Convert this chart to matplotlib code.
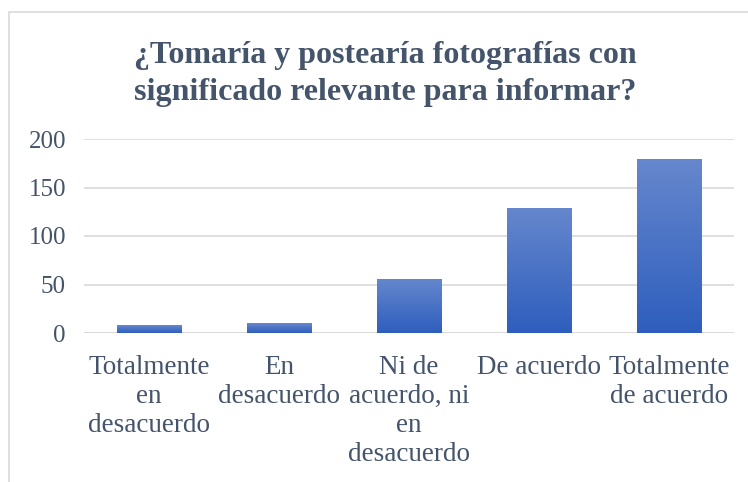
import matplotlib
matplotlib.use("Agg")
import matplotlib.pyplot as plt
import numpy as np
from matplotlib.colors import LinearSegmentedColormap
from matplotlib.patches import Rectangle

categories = ["Totalmente\nen\ndesacuerdo", "En\ndesacuerdo", "Ni de\nacuerdo, ni\nen\ndesacuerdo",
              "De acuerdo", "Totalmente\nde acuerdo"]
values = [8, 10, 56, 129, 179]
yticks = [0, 50, 100, 150, 200]
title = "¿Tomaría y postearía fotografías con\nsignificado relevante para informar?"

plt.rcParams['font.family'] = ['Liberation Serif', 'DejaVu Serif']
text_color = "#44546A"

fig = plt.figure(figsize=(7.48, 4.82), dpi=100)
fig.patches.append(Rectangle((9/748, -0.1), 1.0, 1 - 12/482 + 0.1, transform=fig.transFigure,
                             fill=False, edgecolor="#D9D9D9", linewidth=1.2))

ax = fig.add_axes([84/748, 1 - 333/482, (734-84)/748, (333-139)/482])
x = np.arange(len(categories))
bars = ax.bar(x, values, width=0.5, color="#4472C4", zorder=2)

cmap = LinearSegmentedColormap.from_list("g", ["#2E5EBD", "#6687CD"])
grad = np.linspace(0, 1, 256).reshape(-1, 1)
for b in bars:
    x0, y0 = b.get_x(), b.get_y()
    w, h = b.get_width(), b.get_height()
    im = ax.imshow(grad, extent=[x0, x0 + w, y0, y0 + h], origin="lower", cmap=cmap,
                   aspect="auto", zorder=3)
    im.set_clip_path(b)

ax.set_xlim(-0.5, len(categories) - 0.5)
ax.set_ylim(0, 200)
ax.set_yticks(yticks)
ax.yaxis.grid(True, color="#D9D9D9", linewidth=1.2, zorder=0)
ax.set_axisbelow(True)
for s in ax.spines.values():
    s.set_visible(False)
ax.tick_params(axis="both", length=0, colors=text_color)
ax.tick_params(axis="y", labelsize=18, pad=13)
ax.tick_params(axis="x", labelsize=19.5, pad=16)
ax.set_xticks(x)
ax.set_xticklabels(categories, linespacing=1.2)
ax.axhline(0, color="#D9D9D9", linewidth=1.2, zorder=1)

fig.text(385/748, 1 - 74/482, title, ha="center", va="center", fontsize=23, fontweight="bold",
         color=text_color, linespacing=1.4)

fig.savefig("out.png", dpi=100)
